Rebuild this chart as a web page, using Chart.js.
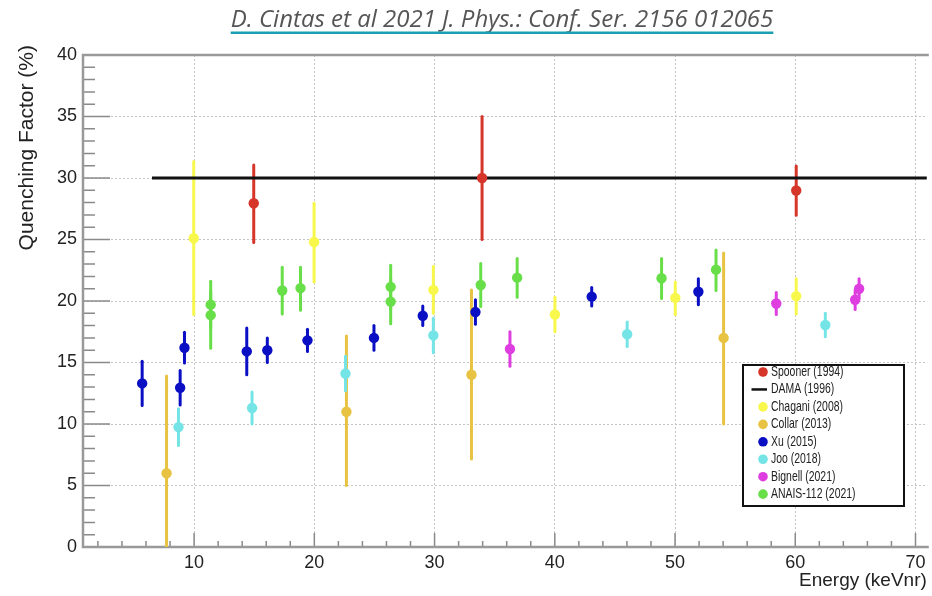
<!DOCTYPE html>
<html>
<head>
<meta charset="utf-8">
<script src="https://cdn.jsdelivr.net/npm/chart.js@4.4.0/dist/chart.umd.min.js"></script>
<style>
  html, body { margin: 0; padding: 0; background: #fff; }
</style>
</head>
<body>
<canvas id="qf" width="932" height="596"></canvas>
<script>
// values: energy in keVnr, quenching factor in %
const spoonerE  = [14.96, 33.95, 60.08];
const spoonerQF = [27.95, 30.0, 28.98];
const spoonerHi = [3.1, 5.0, 2.0];
const spoonerLo = [3.2, 5.0, 2.0];

const damaE  = [6.5, 72];
const damaQF = [30, 30];

const chaganiE  = [9.97, 19.98, 29.90, 40.01, 50.02, 60.08];
const chaganiQF = [25.1, 24.8, 20.9, 18.9, 20.25, 20.4];
const chaganiHi = [6.25, 3.15, 1.9, 1.4, 1.3, 1.4];
const chaganiLo = [6.2, 3.25, 1.9, 1.4, 1.35, 1.45];

const collarE  = [7.71, 22.67, 33.07, 54.04];
const collarQF = [6.0, 11.0, 14.0, 17.0];
const collarHi = [7.9, 6.15, 6.9, 6.9];
const collarLo = [6.0, 6.0, 6.85, 7.0];

const xuE   = [5.68, 8.84, 9.20, 14.38, 16.09, 19.43, 24.96, 29.02, 33.40, 43.07, 51.94];
const xuQF  = [13.3, 12.95, 16.2, 15.9, 16.0, 16.8, 17.0, 18.8, 19.1, 20.35, 20.75];
const xuErr = [1.8, 1.4, 1.25, 1.9, 1.0, 0.9, 1.0, 0.8, 1.0, 0.75, 1.05];

const jooE   = [8.70, 14.82, 22.59, 29.90, 46.02, 62.50];
const jooQF  = [9.75, 11.3, 14.1, 17.2, 17.3, 18.05];
const jooErr = [1.5, 1.3, 1.4, 1.4, 1.0, 0.95];

const bignellE   = [36.27, 58.42, 64.98, 65.31];
const bignellQF  = [16.1, 19.8, 20.1, 21.0];
const bignellErr = [1.4, 0.9, 0.8, 0.8];

const anaisE  = [11.38, 11.38, 17.33, 18.85, 26.35, 26.35, 33.84, 36.87, 48.88, 53.41];
const anaisQF = [19.7, 18.85, 20.85, 21.05, 21.15, 19.95, 21.3, 21.9, 21.85, 22.55];
const anaisHi = [1.9, 1.9, 1.9, 1.7, 1.75, 1.8, 1.75, 1.55, 1.6, 1.6];
const anaisLo = [1.9, 2.7, 1.9, 1.8, 1.8, 1.8, 1.75, 1.6, 1.65, 1.7];

const xTicks = [10, 20, 30, 40, 50, 60, 70];
const yTicks = [0, 5, 10, 15, 20, 25, 30, 35, 40];

const titleText = 'D. Cintas et al 2021 J. Phys.: Conf. Ser. 2156 012065';

function pts(xs, ys) { return xs.map((v, i) => ({x: v, y: ys[i]})); }

function series(label, color, xs, ys, hi, lo) {
  return {
    label: label,
    data: pts(xs, ys),
    errHi: hi,
    errLo: lo || hi,
    backgroundColor: color,
    borderColor: color,
    pointRadius: 5.2,
    pointHoverRadius: 5.2,
    pointBorderWidth: 0
  };
}

// ROOT-like frame, inner ticks, error bars, legend box and titles
const rootStyle = {
  id: 'rootStyle',
  beforeDatasetsDraw(chart) {
    const {ctx, chartArea: a, scales: {x, y}} = chart;
    ctx.save();
    // inner ticks
    ctx.strokeStyle = '#8a8a8a';
    ctx.lineWidth = 1.5;
    ctx.beginPath();
    for (let v = 2; v < x.max; v += 2) {
      const px = x.getPixelForValue(v);
      const len = v % 10 === 0 ? 14 : 6;
      ctx.moveTo(px, a.bottom); ctx.lineTo(px, a.bottom - len);
    }
    for (let v = 0; v <= 40; v++) {
      const py = y.getPixelForValue(v);
      const len = v % 5 === 0 ? 27 : 12;
      ctx.moveTo(a.left, py); ctx.lineTo(a.left + len, py);
    }
    ctx.stroke();
    // frame (right side is cut off in the original)
    ctx.strokeStyle = '#999';
    ctx.lineWidth = 2.5;
    ctx.beginPath();
    ctx.moveTo(a.right + 2, a.top); ctx.lineTo(a.left, a.top);
    ctx.lineTo(a.left, a.bottom); ctx.lineTo(a.right + 2, a.bottom);
    ctx.stroke();
    // error bars
    ctx.beginPath();
    ctx.rect(a.left, a.top, a.right - a.left, a.bottom - a.top);
    ctx.clip();
    ctx.lineWidth = 3;
    ctx.lineCap = 'round';
    chart.data.datasets.forEach((ds) => {
      if (!ds.errHi) return;
      ctx.strokeStyle = ds.borderColor;
      ds.data.forEach((p, j) => {
        const px = x.getPixelForValue(p.x);
        ctx.beginPath();
        ctx.moveTo(px, y.getPixelForValue(p.y + ds.errHi[j]));
        ctx.lineTo(px, y.getPixelForValue(p.y - ds.errLo[j]));
        ctx.stroke();
      });
    });
    ctx.restore();
  },
  afterDraw(chart) {
    const ctx = chart.ctx;
    ctx.save();
    // legend box
    const lx = 743, ly = 365, lw = 161, lh = 141;
    ctx.fillStyle = '#fff';
    ctx.fillRect(lx, ly, lw, lh);
    ctx.strokeStyle = '#111';
    ctx.lineWidth = 2;
    ctx.strokeRect(lx, ly, lw, lh);
    ctx.font = '14.5px "Liberation Sans", Arial, sans-serif';
    ctx.textBaseline = 'middle';
    ctx.textAlign = 'left';
    chart.data.datasets.forEach((ds, i) => {
      const cy = ly + 7 + i * 17.45;
      if (ds.showLine) {
        ctx.strokeStyle = ds.borderColor;
        ctx.lineWidth = 2.5;
        ctx.beginPath(); ctx.moveTo(lx + 8.5, cy); ctx.lineTo(lx + 24, cy); ctx.stroke();
      } else {
        ctx.fillStyle = ds.backgroundColor;
        ctx.beginPath(); ctx.arc(lx + 20, cy, 4.8, 0, Math.PI * 2); ctx.fill();
      }
      // the original legend uses a narrow face
      ctx.save();
      ctx.translate(lx + 28, cy);
      ctx.scale(0.72, 1);
      ctx.fillStyle = '#222';
      ctx.fillText(ds.label, 0, 0);
      ctx.restore();
    });
    // y axis title, aligned with the top of the axis
    ctx.save();
    ctx.translate(27, 45);
    ctx.rotate(-Math.PI / 2);
    ctx.textAlign = 'right';
    ctx.textBaseline = 'middle';
    ctx.font = '21px "Liberation Sans", Arial, sans-serif';
    ctx.fillStyle = '#222';
    ctx.fillText('Quenching Factor (%)', 0, 0);
    ctx.restore();
    // citation title with teal underline
    ctx.font = 'italic 24px "Open Sans", sans-serif';
    ctx.textAlign = 'center';
    ctx.textBaseline = 'alphabetic';
    ctx.fillStyle = '#555';
    ctx.fillText(titleText, 502, 27);
    const w = ctx.measureText(titleText).width;
    ctx.fillStyle = '#1d9fb3';
    ctx.fillRect(502 - w / 2, 31.5, w, 2.5);
    ctx.restore();
  }
};

const ctx = document.getElementById('qf').getContext('2d');

new Chart(ctx, {
  type: 'scatter',
  data: {
    datasets: [
      series('Spooner (1994)', '#d6352a', spoonerE, spoonerQF, spoonerHi, spoonerLo),
      {
        label: 'DAMA (1996)',
        data: pts(damaE, damaQF),
        showLine: true,
        borderColor: '#111',
        backgroundColor: '#111',
        borderWidth: 3,
        pointRadius: 0,
        pointHoverRadius: 0
      },
      series('Chagani (2008)', '#f8f84c', chaganiE, chaganiQF, chaganiHi, chaganiLo),
      series('Collar (2013)', '#e8c343', collarE, collarQF, collarHi, collarLo),
      series('Xu (2015)', '#0a0fc4', xuE, xuQF, xuErr),
      series('Joo (2018)', '#74e4e6', jooE, jooQF, jooErr),
      series('Bignell (2021)', '#de3ee0', bignellE, bignellQF, bignellErr),
      series('ANAIS-112 (2021)', '#68de48', anaisE, anaisQF, anaisHi, anaisLo)
    ]
  },
  options: {
    responsive: false,
    animation: false,
    events: [],
    layout: { padding: { top: 55, right: 0, left: 0, bottom: 0 } },
    plugins: {
      legend: { display: false },
      tooltip: { enabled: false },
      title: { display: false }
    },
    scales: {
      x: {
        type: 'linear',
        min: 0.76,
        max: 70.94,
        afterBuildTicks: s => { s.ticks = xTicks.map(v => ({value: v})); },
        afterFit: s => { s.height = 49; s.paddingLeft = 0; s.paddingRight = 0; },
        grid: { color: '#c4c4c4', lineWidth: 1, drawTicks: false },
        border: { display: false, dash: [2, 2] },
        ticks: { padding: 5, color: '#222', font: { family: 'Liberation Sans', size: 18 } },
        title: {
          display: true,
          text: 'Energy (keVnr)',
          align: 'end',
          color: '#222',
          padding: { top: 0, bottom: 4 },
          font: { family: 'Liberation Sans', size: 19 }
        }
      },
      y: {
        type: 'linear',
        min: 0,
        max: 40,
        afterBuildTicks: s => { s.ticks = yTicks.map(v => ({value: v})); },
        afterFit: s => { s.width = 83; s.paddingTop = 0; s.paddingBottom = 0; },
        grid: { color: '#c4c4c4', lineWidth: 1, drawTicks: false },
        border: { display: false, dash: [2, 2] },
        ticks: { padding: 6, color: '#222', font: { family: 'Liberation Sans', size: 18 } }
      }
    }
  },
  plugins: [rootStyle]
});
</script>
</body>
</html>
